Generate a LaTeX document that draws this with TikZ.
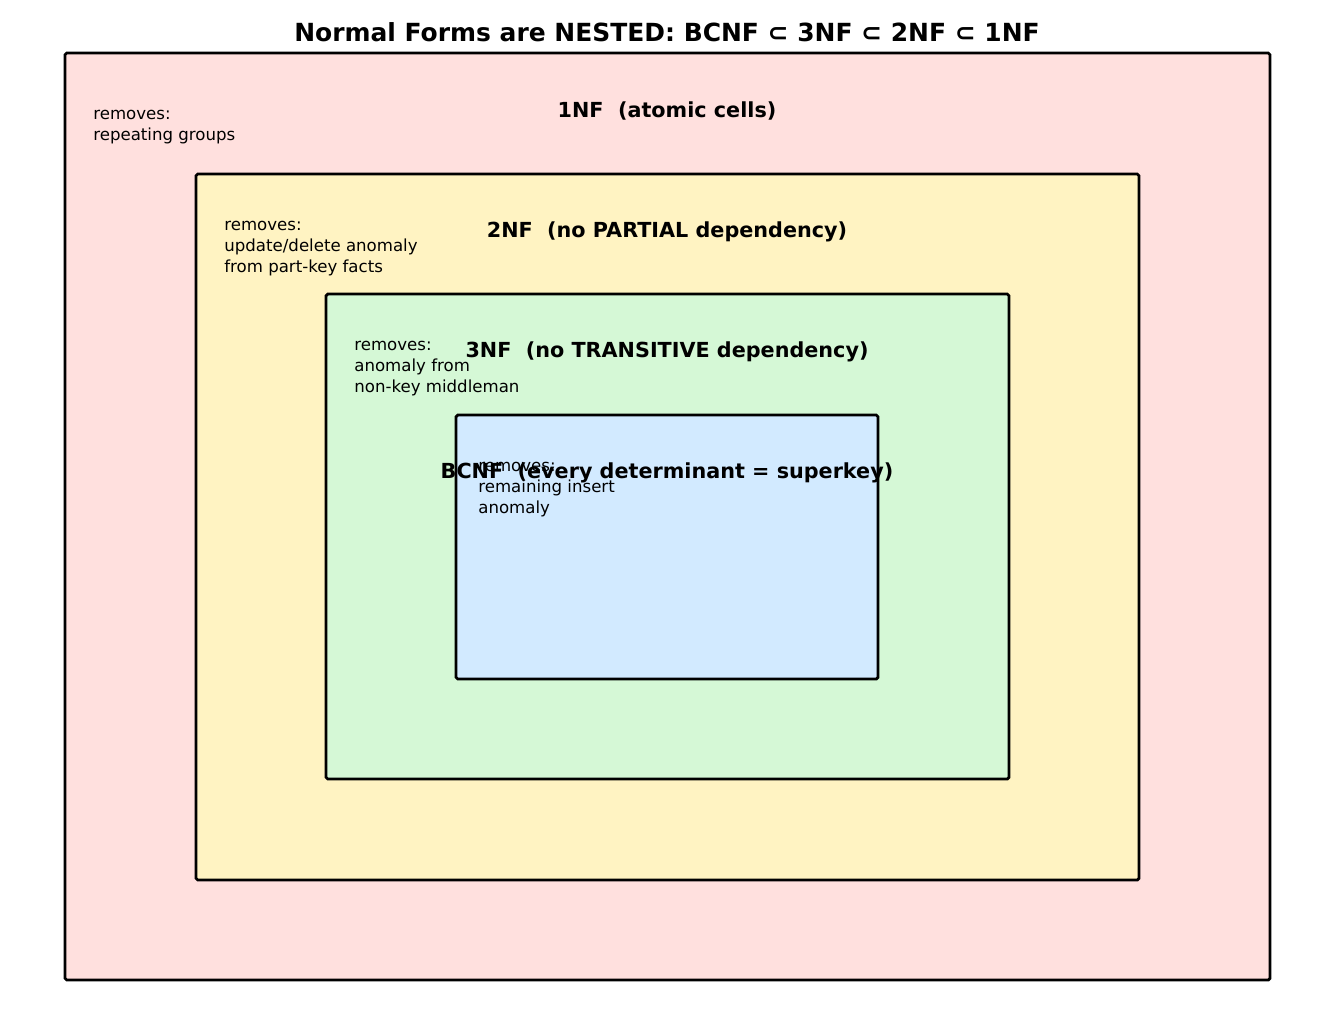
\documentclass[tikz,border=0pt]{standalone}
\usepackage{fontspec}
\setmainfont{DejaVu Sans}
\usepackage{tikz}
\usetikzlibrary{positioning}

\definecolor{nfpink}{RGB}{255,224,222}
\definecolor{nfyellow}{RGB}{255,243,194}
\definecolor{nfgreen}{RGB}{213,248,214}
\definecolor{nfblue}{RGB}{210,234,255}

\begin{document}
\begin{tikzpicture}[
    x=0.02cm, y=-0.02cm,
    box/.style={draw=black, line width=1.6pt, rounded corners=1pt},
    lbl/.style={font=\fontsize{11.8}{14}\selectfont\bfseries, inner sep=0pt},
    note/.style={font=\fontsize{9.45}{11.9}\selectfont, align=left,
                 anchor=north west, inner sep=0pt},
    ttl/.style={font=\fontsize{14.2}{17}\selectfont\bfseries, inner sep=0pt}
  ]
  \useasboundingbox (0,0) rectangle (1335,1034);

  %% Nested boxes
  \draw[box, fill=nfpink]   (65,53)   rectangle (1270,980);
  \draw[box, fill=nfyellow] (196,174) rectangle (1139,880);
  \draw[box, fill=nfgreen]  (326,294) rectangle (1009,779);
  \draw[box, fill=nfblue]   (456,415) rectangle (878,679);

  \node[ttl] (title) at (667,32) {Normal Forms are NESTED: BCNF ⊂ 3NF ⊂ 2NF ⊂ 1NF};

  %% Notes
  \node[note] (n1) at (93,110)  {removes:\\repeating groups};
  \node[note] (n2) at (224,221) {removes:\\update/delete anomaly\\from part-key facts};
  \node[note] (n3) at (354,341) {removes:\\anomaly from\\non-key middleman};
  \node[note] (n4) at (478,462) {removes:\\remaining insert\\anomaly};

  %% Labels
  \node[lbl] (l1) at (667,111) {1NF\ \ (atomic cells)};
  \node[lbl] (l2) at (667,232) {2NF\ \ (no PARTIAL dependency)};
  \node[lbl] (l3) at (667,352) {3NF\ \ (no TRANSITIVE dependency)};
  \node[lbl] (l4) at (667,473) {BCNF\ \ (every determinant = superkey)};

\end{tikzpicture}
\end{document}
